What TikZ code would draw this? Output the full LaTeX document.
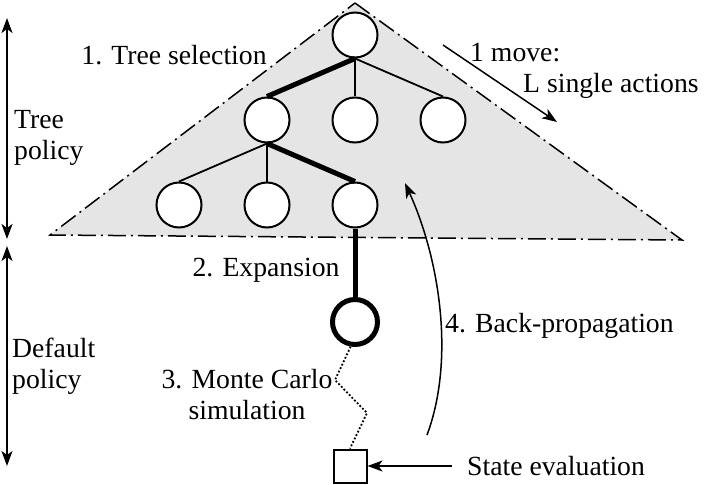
\documentclass[tikz,border=0pt]{standalone}
\usepackage{fontspec}
\setmainfont{Liberation Serif}
\usetikzlibrary{positioning,arrows.meta,trees}

\begin{document}
\begin{tikzpicture}
            [x=1pt, y=-1pt,
            font=\fontsize{27.7}{31}\selectfont,
            state/.style={circle, draw=black, fill=white,
            minimum size=45pt, inner sep=0pt, line width=2pt},
            newstate/.style={state, line width=5pt},
            evalbox/.style={rectangle, draw=black, fill=white,
            minimum size=33pt, inner sep=0pt, line width=2pt},
            lbl/.style={inner sep=0pt, align=left},
            arr/.style={line width=1.5pt, -{Stealth[length=15pt,width=11pt,inset=4pt]}},
            darr/.style={line width=1.5pt, {Stealth[length=15pt,width=11pt,inset=4pt]}-{Stealth[length=15pt,width=11pt,inset=4pt]}},
            edge from parent/.style={draw=black, line width=1.8pt},
            edge from parent path={(\tikzparentnode.south) -- (\tikzchildnode.north)},
            level distance=85pt, sibling distance=88pt]
            \useasboundingbox (0,0) rectangle (708,484);
            % tree region
            \fill[black!10] (355,3) -- (682,240) -- (50,235) -- cycle;
            \draw[line width=1.5pt, dash pattern=on 18pt off 5pt on 2pt off 5pt]
                (355,3) -- (682,240) -- (50,235) -- cycle;
            % search tree
            \node[state] (root) at (355,35) {}
                child { node[state] (sel) {}
                    child { node[state] (leafa) {}}
                    child { node[state] (leafb) {}}
                    child { node[state] (leafc) {}
                        child[level distance=117pt] { node[newstate] (exp) {}
                            edge from parent[line width=5pt]}
                        edge from parent[line width=5pt]}
                    edge from parent[line width=5pt]}
                child { node[state] (midb) {}}
                child { node[state] (midc) {}};
            % simulation
            \node[evalbox] (eval) at (350,466) {};
            \draw[line width=1.8pt, dash pattern=on 1.8pt off 2pt]
                (exp.260) -- (335,380) -- (367,413) -- (eval.north);
            % labels
            \node[lbl] (seltext) at (174,55) {1. Tree selection};
            \node[lbl, anchor=west] (movetext) at (470,71) {1 move:\\\hspace*{53pt}L single actions};
            \node[lbl, anchor=west] (treepol) at (14,138) {Tree\\policy};
            \node[lbl, anchor=west] (defpol) at (12,366) {Default\\policy};
            \node[lbl] (exptext) at (266,270) {2. Expansion};
            \node[lbl, align=center] (simtext) at (247,395) {3. Monte Carlo\\simulation};
            \node[lbl, anchor=west] (bptext) at (445,326) {4. Back-propagation};
            \node[lbl, anchor=west] (evaltext) at (467,466) {State evaluation};
            % arrows
            \coordinate (mvstart) at (443,45);
            \coordinate (mvend) at (557,122);
            \draw[arr] (mvstart) -- (mvend);
            \coordinate (bpstart) at (427,435);
            \coordinate (bpend) at (405,183);
            \draw[arr] (bpstart) .. controls (455,360) and (440,260) .. (bpend);
            \draw[arr] ([xshift=-15pt]evaltext.west) -- (eval.east);
            \coordinate (tptop) at (7,18);
            \coordinate (tpbot) at (7,239);
            \coordinate (dptop) at (7,246);
            \coordinate (dpbot) at (7,466);
            \draw[darr] (tptop) -- (tpbot);
            \draw[darr] (dptop) -- (dpbot);
\end{tikzpicture}
\end{document}
